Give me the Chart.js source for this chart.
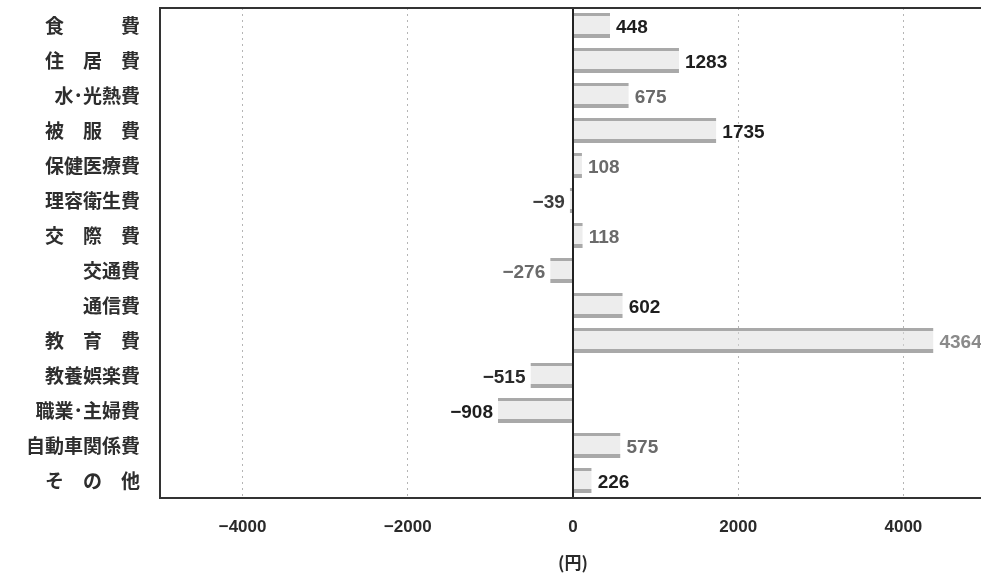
<!DOCTYPE html>
<html>
<head>
<meta charset="utf-8">
<script src="https://cdn.jsdelivr.net/npm/chart.js@4.4.1/dist/chart.umd.min.js"></script>
<style>
  html, body { margin: 0; padding: 0; background: #fff; overflow: hidden; }
  #wrap { position: relative; width: 990px; height: 577px; }
</style>
</head>
<body>
<div id="wrap"><canvas id="diff-chart"></canvas></div>
<script>
var categories = ['食　　　費', '住　居　費', '水･光熱費', '被　服　費', '保健医療費', '理容衛生費', '交　際　費',
                  '交通費', '通信費', '教　育　費', '教養娯楽費', '職業･主婦費', '自動車関係費', 'そ　の　他'];
var differences = [448, 1283, 675, 1735, 108, -39, 118, -276, 602, 4364, -515, -908, 575, 226];
var xTicks = [-4000, -2000, 0, 2000, 4000];

// dark / grey value labels
var labelColors = ['#1e1e1e', '#1e1e1e', '#6a6a6a', '#1e1e1e', '#6a6a6a', '#3c3c3c', '#6a6a6a',
                   '#6a6a6a', '#1e1e1e', '#8a8a8a', '#2a2a2a', '#1e1e1e', '#6a6a6a', '#1e1e1e'];

function fmt(v) {
  return v < 0 ? '\u2212' + Math.abs(v) : String(v);
}

var valueLabels = {
  id: 'valueLabels',
  afterDatasetsDraw: function(chart) {
    var ctx = chart.ctx;
    var meta = chart.getDatasetMeta(0);
    ctx.save();
    ctx.font = 'bold 19px "Liberation Sans", Arial, sans-serif';
    ctx.textBaseline = 'middle';
    meta.data.forEach(function(bar, i) {
      var v = differences[i];
      ctx.fillStyle = labelColors[i];
      ctx.textAlign = v < 0 ? 'right' : 'left';
      ctx.fillText(fmt(v), bar.x + (v < 0 ? -5 : 6), bar.y + 2);
    });
    ctx.restore();
  }
};

// top edge of the plot frame
var topFrame = {
  id: 'topFrame',
  afterDraw: function(chart) {
    var a = chart.chartArea;
    var ctx = chart.ctx;
    ctx.save();
    ctx.strokeStyle = '#333';
    ctx.lineWidth = 2;
    ctx.beginPath();
    ctx.moveTo(a.left - 1, a.top);
    ctx.lineTo(a.right, a.top);
    ctx.stroke();
    ctx.restore();
  }
};

var ctxEl = document.getElementById('diff-chart');
var chart = new Chart(ctxEl, {
  type: 'bar',
  data: {
    labels: categories,
    datasets: [{
      data: differences,
      backgroundColor: 'rgba(220,220,220,0.5)',
      borderColor: '#a9a9a9',
      borderWidth: { top: 3, bottom: 4, left: 0, right: 0 },
      borderSkipped: false,
      barPercentage: 0.72,
      categoryPercentage: 1
    }]
  },
  options: {
    indexAxis: 'y',
    responsive: true,
    maintainAspectRatio: false,
    animation: false,
    devicePixelRatio: 1,
    layout: { padding: { top: 8, right: 4, left: 0, bottom: 0 } },
    plugins: {
      legend: { display: false },
      tooltip: { enabled: false }
    },
    scales: {
      x: {
        min: -5000,
        max: 5000,
        afterBuildTicks: function(scale) {
          scale.ticks = xTicks.map(function(v) { return { value: v }; });
        },
        afterFit: function(scale) { scale.height = 79; },
        grid: {
          drawTicks: false,
          color: function(c) { return c.tick && c.tick.value === 0 ? '#222' : '#b5b5b5'; },
          lineWidth: function(c) { return c.tick && c.tick.value === 0 ? 2 : 1; }
        },
        border: {
          display: true,
          color: '#333',
          width: 2,
          dash: function(c) { return c.tick && c.tick.value !== 0 ? [2, 4] : []; }
        },
        ticks: {
          padding: 19,
          color: '#2a2a2a',
          font: { family: '"Liberation Sans", Arial, sans-serif', size: 17, weight: 'bold' },
          callback: function(v) { return fmt(v); }
        },
        title: {
          display: true,
          text: '(円)',
          color: '#2a2a2a',
          padding: { top: 0, bottom: 4 },
          font: { family: '"Noto Sans CJK JP", sans-serif', size: 17, weight: 'bold' }
        }
      },
      y: {
        afterFit: function(scale) {
          scale.width = 160;
          scale.paddingTop = 0;
          scale.paddingBottom = 0;
        },
        grid: { display: false, drawTicks: false },
        border: { display: true, color: '#333', width: 2 },
        ticks: {
          padding: 20,
          color: '#2e2e2e',
          font: { family: '"Noto Sans CJK JP", sans-serif', size: 19, weight: 'bold' }
        }
      }
    }
  },
  plugins: [valueLabels, topFrame]
});
</script>
</body>
</html>
